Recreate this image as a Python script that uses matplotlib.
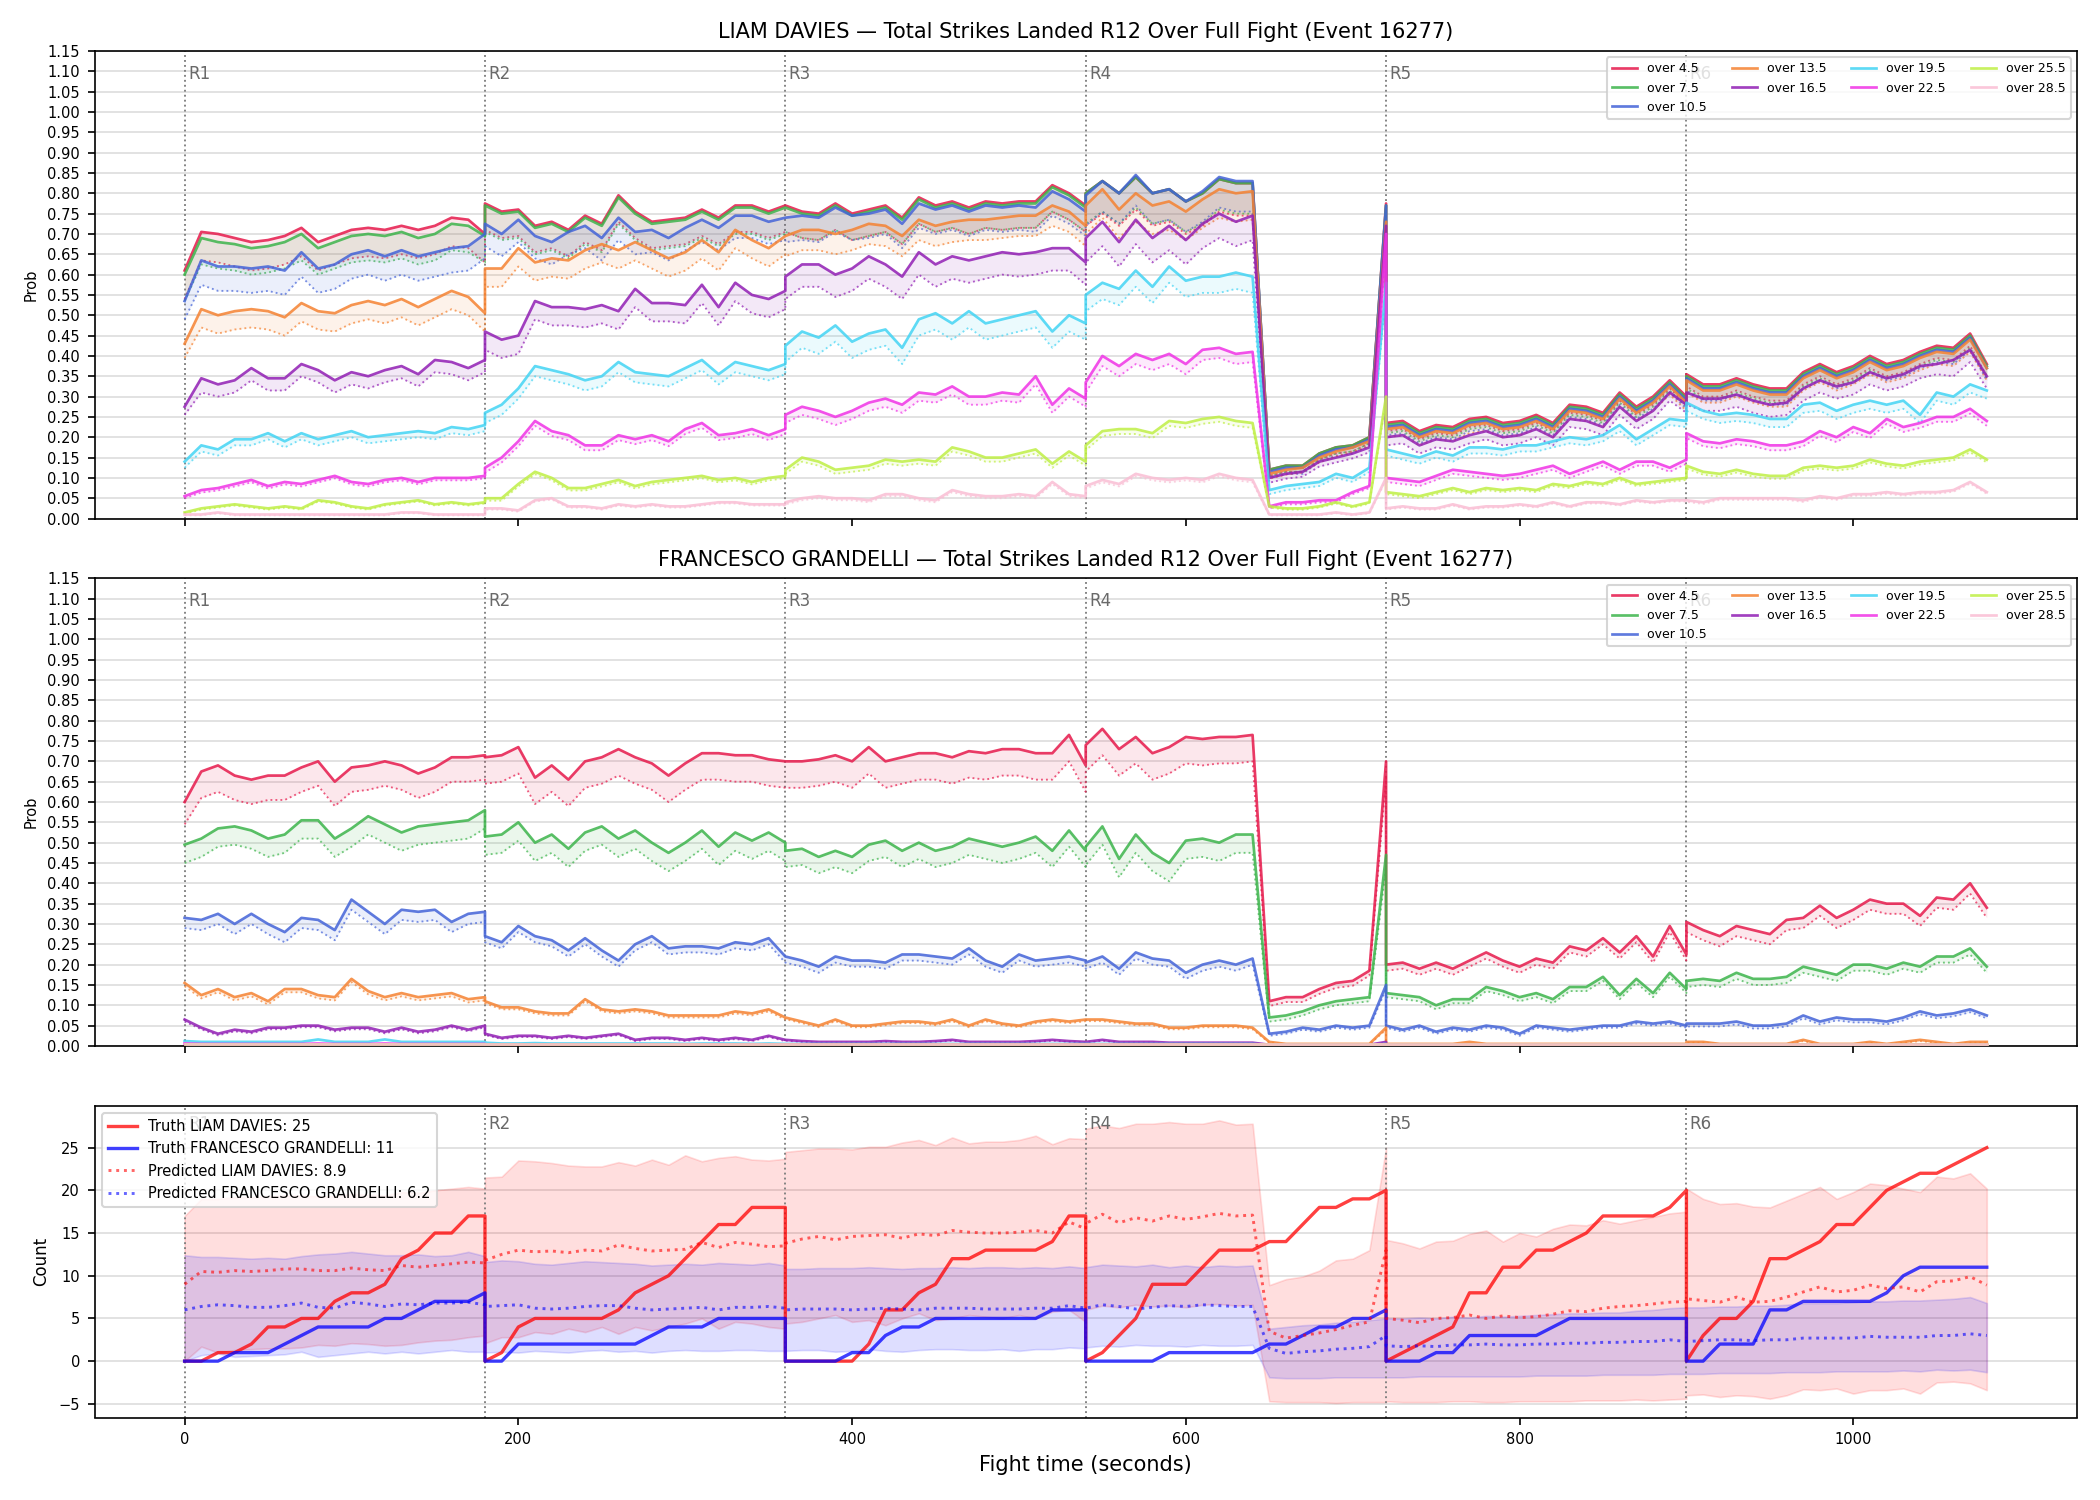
import numpy as np
import matplotlib
matplotlib.use('Agg')
import matplotlib.pyplot as plt
from matplotlib import transforms

plt.rc('font', size=7)

# fight timeline: every round sampled at 0,10,...,180 s (19 points per round)
round_starts = [0, 180, 360, 540, 720, 900]
round_labels = ['R1', 'R2', 'R3', 'R4', 'R5', 'R6']
t = np.concatenate([s + np.arange(0, 181, 10) for s in round_starts])

line_labels = ['over 4.5', 'over 7.5', 'over 10.5', 'over 13.5', 'over 16.5',
               'over 19.5', 'over 22.5', 'over 25.5', 'over 28.5']
line_colors = ['#e6194b', '#3cb44b', '#4363d8', '#f58231', '#911eb4',
               '#42d4f4', '#f032e6', '#bfef45', '#fabed4']

# ---------------- LIAM DAVIES: live probability (solid) ----------------
davies_45 = [.61,.705,.70,.69,.68,.685,.695,.715,.68,.695,.71,.715,.71,.72,.71,.72,.74,.735,.70,
             .775,.755,.76,.72,.73,.71,.745,.725,.795,.755,.73,.735,.74,.76,.74,.77,.77,.755,.77,
             .77,.755,.75,.775,.75,.76,.77,.74,.79,.77,.78,.765,.78,.775,.78,.78,.82,.80,.77,
             .80,.83,.80,.84,.80,.81,.78,.80,.835,.825,.825,.12,.13,.13,.16,.175,.18,.20,.775,
             .235,.24,.215,.23,.225,.245,.25,.235,.24,.255,.235,.28,.275,.26,.31,.275,.30,.34,.30,
             .355,.33,.33,.345,.33,.32,.32,.36,.38,.36,.375,.40,.38,.39,.41,.425,.42,.455,.38]
davies_75 = [.60,.69,.68,.675,.665,.67,.68,.70,.665,.68,.695,.70,.695,.705,.69,.70,.725,.72,.695,
             .77,.75,.755,.715,.725,.705,.74,.72,.79,.75,.725,.73,.735,.755,.735,.765,.765,.75,.765,
             .765,.75,.745,.77,.745,.755,.765,.735,.785,.765,.775,.76,.775,.77,.775,.775,.815,.795,.765,
             .80,.83,.80,.84,.80,.81,.78,.80,.835,.825,.825,.12,.13,.13,.16,.175,.18,.20,.77,
             .23,.235,.21,.225,.22,.24,.245,.23,.235,.25,.23,.275,.27,.255,.305,.27,.295,.335,.295,
             .35,.325,.325,.34,.325,.315,.315,.355,.375,.355,.37,.395,.375,.385,.405,.42,.415,.45,.375]
davies_105 = [.535,.635,.62,.62,.615,.62,.61,.655,.615,.625,.65,.66,.645,.66,.645,.655,.665,.67,.70,
              .725,.70,.735,.695,.68,.705,.72,.69,.74,.705,.71,.69,.715,.735,.715,.745,.745,.73,.74,
              .74,.745,.74,.765,.745,.75,.76,.725,.775,.76,.77,.755,.77,.765,.77,.765,.805,.785,.755,
              .795,.83,.80,.845,.80,.81,.78,.805,.84,.83,.83,.115,.125,.125,.155,.17,.175,.195,.77,
              .225,.23,.205,.22,.215,.235,.24,.225,.23,.245,.225,.27,.265,.25,.30,.265,.29,.33,.29,
              .345,.32,.32,.335,.32,.31,.31,.35,.37,.35,.365,.39,.37,.38,.40,.415,.41,.445,.37]
davies_135 = [.43,.515,.50,.51,.515,.51,.495,.53,.51,.505,.525,.535,.525,.54,.52,.54,.56,.545,.505,
              .615,.615,.665,.63,.64,.635,.66,.675,.66,.68,.66,.64,.655,.685,.655,.71,.685,.665,.695,
              .695,.71,.71,.70,.71,.725,.72,.695,.735,.72,.73,.735,.735,.74,.745,.745,.77,.755,.72,
              .77,.81,.76,.80,.77,.78,.755,.785,.81,.80,.805,.11,.12,.125,.15,.165,.175,.19,.73,
              .22,.225,.20,.215,.21,.23,.235,.22,.225,.24,.22,.265,.26,.245,.295,.26,.285,.325,.285,
              .34,.315,.315,.33,.315,.305,.305,.345,.365,.345,.36,.385,.365,.375,.395,.41,.405,.44,.37]
davies_165 = [.275,.345,.33,.34,.37,.345,.345,.38,.365,.34,.36,.35,.365,.375,.355,.39,.385,.37,.39,
              .46,.44,.45,.535,.52,.52,.515,.525,.51,.565,.53,.53,.525,.575,.52,.58,.55,.54,.56,
              .595,.625,.625,.60,.615,.645,.625,.595,.655,.625,.645,.635,.645,.655,.65,.655,.665,.665,.63,
              .69,.73,.68,.735,.69,.72,.685,.725,.75,.73,.745,.10,.11,.115,.14,.15,.16,.175,.72,
              .20,.205,.18,.195,.19,.205,.215,.20,.205,.22,.20,.245,.24,.225,.275,.24,.265,.31,.28,
              .31,.295,.295,.305,.29,.28,.285,.32,.34,.325,.335,.36,.345,.355,.375,.38,.39,.415,.35]
davies_195 = [.14,.18,.17,.195,.195,.21,.19,.21,.195,.205,.215,.20,.205,.21,.215,.21,.225,.22,.23,
              .26,.28,.32,.375,.365,.355,.34,.35,.385,.36,.355,.35,.37,.39,.355,.385,.375,.365,.38,
              .425,.46,.445,.475,.435,.455,.465,.42,.49,.505,.48,.51,.48,.49,.50,.51,.46,.50,.48,
              .55,.58,.565,.61,.57,.62,.585,.595,.595,.605,.595,.07,.08,.085,.09,.11,.10,.125,.58,
              .17,.16,.15,.165,.155,.175,.175,.17,.18,.18,.19,.20,.195,.205,.23,.195,.22,.245,.24,
              .285,.265,.255,.26,.255,.245,.245,.28,.285,.265,.28,.29,.28,.29,.255,.31,.30,.33,.315]
davies_225 = [.055,.07,.075,.085,.095,.08,.09,.085,.095,.105,.09,.085,.095,.10,.09,.10,.10,.10,.105,
              .125,.15,.19,.24,.215,.205,.18,.18,.205,.195,.205,.19,.22,.235,.205,.21,.22,.205,.22,
              .255,.275,.265,.25,.265,.285,.295,.28,.31,.305,.325,.30,.30,.31,.305,.35,.28,.32,.295,
              .335,.40,.375,.405,.39,.405,.38,.415,.42,.405,.41,.03,.04,.04,.045,.045,.065,.08,.70,
              .10,.095,.09,.105,.12,.115,.11,.105,.11,.12,.13,.11,.125,.14,.12,.14,.14,.125,.145,
              .21,.19,.185,.195,.19,.18,.18,.19,.215,.20,.225,.21,.245,.225,.235,.25,.25,.27,.24]
davies_255 = [.015,.025,.03,.035,.03,.025,.03,.025,.045,.04,.03,.025,.035,.04,.045,.035,.04,.035,.04,
              .05,.05,.085,.115,.10,.075,.075,.085,.095,.08,.09,.095,.10,.105,.095,.10,.09,.10,.105,
              .12,.15,.14,.12,.125,.13,.145,.14,.145,.14,.175,.165,.15,.15,.16,.17,.135,.165,.14,
              .18,.215,.22,.22,.21,.24,.235,.245,.25,.24,.235,.03,.025,.025,.03,.04,.03,.04,.30,
              .065,.06,.055,.065,.075,.065,.075,.07,.075,.07,.085,.08,.09,.085,.10,.085,.09,.095,.10,
              .13,.115,.11,.12,.11,.105,.105,.125,.13,.125,.13,.145,.135,.13,.14,.145,.15,.17,.145]
davies_285 = [.01,.01,.015,.01,.01,.01,.01,.01,.01,.01,.01,.01,.01,.015,.015,.01,.01,.01,.01,
              .025,.025,.02,.045,.05,.03,.03,.025,.035,.03,.035,.03,.03,.035,.04,.04,.035,.035,.035,
              .04,.05,.055,.05,.05,.045,.06,.06,.05,.045,.07,.06,.055,.055,.06,.055,.09,.06,.055,
              .08,.095,.085,.11,.10,.095,.10,.095,.11,.10,.095,.01,.01,.01,.01,.015,.01,.015,.10,
              .025,.03,.025,.025,.035,.025,.03,.03,.035,.03,.04,.03,.04,.04,.035,.045,.04,.045,.045,
              .045,.04,.05,.05,.05,.05,.05,.045,.055,.05,.06,.06,.065,.06,.065,.065,.07,.09,.065]

# ---------------- LIAM DAVIES: pre-fight line (dotted) ----------------
davies_45_pre = [.54,.635,.63,.62,.61,.615,.625,.645,.61,.625,.64,.645,.64,.65,.64,.65,.67,.665,.63,
                 .71,.69,.695,.655,.665,.645,.68,.66,.73,.69,.665,.67,.675,.695,.675,.705,.705,.69,.705,
                 .705,.69,.685,.71,.685,.695,.705,.675,.725,.705,.715,.70,.715,.71,.715,.715,.755,.735,.705,
                 .72,.75,.72,.76,.72,.73,.70,.72,.755,.745,.745,.105,.115,.115,.145,.16,.165,.185,.76,
                 .215,.22,.195,.21,.205,.225,.23,.215,.22,.235,.215,.26,.255,.24,.29,.255,.28,.32,.28,
                 .325,.30,.30,.315,.30,.29,.29,.33,.35,.33,.345,.37,.35,.36,.38,.395,.39,.425,.35]
davies_75_pre = [.535,.625,.615,.61,.60,.605,.615,.635,.60,.615,.63,.635,.63,.64,.625,.635,.66,.655,.63,
                 .705,.685,.69,.65,.66,.64,.675,.655,.725,.685,.66,.665,.67,.69,.67,.70,.70,.685,.70,
                 .705,.69,.685,.71,.685,.695,.705,.675,.725,.705,.715,.70,.715,.71,.715,.715,.755,.735,.705,
                 .725,.755,.725,.765,.725,.735,.705,.725,.76,.75,.75,.105,.115,.115,.145,.16,.165,.185,.755,
                 .21,.215,.19,.205,.20,.22,.225,.21,.215,.23,.21,.255,.25,.235,.285,.25,.275,.315,.275,
                 .32,.295,.295,.31,.295,.285,.285,.325,.345,.325,.34,.365,.345,.355,.375,.39,.385,.42,.345]
davies_105_pre = [.49,.575,.56,.56,.555,.56,.55,.595,.555,.565,.59,.60,.585,.60,.585,.595,.605,.61,.64,
                  .67,.645,.68,.64,.625,.65,.665,.635,.685,.65,.655,.635,.66,.68,.66,.69,.69,.675,.685,
                  .68,.685,.68,.705,.685,.69,.70,.665,.715,.70,.71,.695,.71,.705,.71,.705,.745,.725,.695,
                  .72,.755,.725,.77,.725,.735,.705,.73,.765,.755,.755,.10,.11,.11,.14,.155,.16,.18,.755,
                  .205,.21,.185,.20,.195,.215,.22,.205,.21,.225,.205,.25,.245,.23,.28,.245,.27,.31,.27,
                  .315,.29,.29,.305,.29,.28,.28,.32,.34,.32,.335,.36,.34,.35,.37,.385,.38,.415,.34]
davies_135_pre = [.395,.47,.455,.465,.47,.465,.45,.485,.465,.46,.48,.49,.48,.495,.475,.495,.515,.50,.46,
                  .57,.57,.62,.585,.595,.59,.615,.63,.615,.635,.615,.595,.61,.64,.61,.665,.64,.62,.65,
                  .645,.66,.66,.65,.66,.675,.67,.645,.685,.67,.68,.685,.685,.69,.695,.695,.72,.705,.67,
                  .70,.74,.69,.73,.70,.71,.685,.715,.74,.73,.735,.098,.108,.113,.138,.153,.163,.178,.71,
                  .20,.205,.18,.195,.19,.21,.215,.20,.205,.22,.20,.245,.24,.225,.275,.24,.265,.305,.265,
                  .31,.285,.285,.30,.285,.275,.275,.315,.335,.315,.33,.355,.335,.345,.365,.38,.375,.41,.34]
davies_165_pre = [.255,.31,.30,.31,.34,.315,.315,.35,.335,.31,.33,.32,.335,.345,.325,.36,.355,.34,.36,
                  .415,.395,.405,.49,.475,.475,.47,.48,.465,.52,.485,.485,.48,.53,.475,.535,.505,.495,.515,
                  .54,.57,.57,.545,.56,.59,.57,.54,.60,.57,.59,.58,.59,.60,.595,.60,.61,.61,.575,
                  .63,.67,.62,.675,.63,.66,.625,.665,.69,.67,.685,.088,.098,.103,.128,.138,.148,.163,.70,
                  .18,.185,.16,.175,.17,.185,.195,.18,.185,.20,.18,.225,.22,.205,.255,.22,.245,.29,.26,
                  .28,.265,.265,.275,.26,.25,.255,.29,.31,.295,.305,.33,.315,.325,.345,.355,.35,.385,.32]
davies_195_pre = [.125,.165,.155,.18,.18,.195,.175,.195,.18,.19,.20,.185,.19,.195,.20,.195,.21,.205,.215,
                  .235,.255,.295,.35,.34,.33,.315,.325,.36,.335,.33,.325,.345,.365,.33,.36,.35,.34,.355,
                  .385,.42,.405,.435,.395,.415,.425,.38,.45,.465,.44,.47,.44,.45,.46,.47,.42,.46,.44,
                  .51,.54,.525,.57,.53,.58,.545,.555,.555,.565,.555,.06,.07,.075,.08,.10,.09,.115,.56,
                  .155,.145,.135,.15,.14,.16,.16,.155,.165,.165,.175,.185,.18,.19,.215,.18,.205,.23,.225,
                  .265,.245,.235,.24,.235,.225,.225,.26,.265,.245,.26,.27,.26,.27,.235,.29,.28,.31,.295]
davies_225_pre = [.05,.064,.069,.079,.089,.074,.084,.079,.089,.099,.084,.079,.089,.094,.084,.094,.094,.094,.099,
                  .113,.138,.178,.228,.203,.193,.168,.168,.193,.183,.193,.178,.208,.223,.193,.198,.208,.193,.208,
                  .235,.255,.245,.23,.245,.265,.275,.26,.29,.285,.305,.28,.28,.29,.285,.33,.26,.30,.275,
                  .31,.375,.35,.38,.365,.38,.355,.39,.395,.38,.385,.025,.035,.035,.04,.04,.06,.075,.69,
                  .09,.085,.08,.095,.11,.105,.10,.095,.10,.11,.12,.10,.115,.13,.11,.13,.13,.115,.135,
                  .198,.178,.173,.183,.178,.168,.168,.178,.203,.188,.213,.198,.233,.213,.223,.238,.238,.258,.228]
davies_255_pre = [.012,.022,.027,.032,.027,.022,.027,.022,.042,.037,.027,.022,.032,.037,.042,.032,.037,.032,.037,
                  .044,.044,.079,.109,.094,.069,.069,.079,.089,.074,.084,.089,.094,.099,.089,.094,.084,.094,.099,
                  .11,.14,.13,.11,.115,.12,.135,.13,.135,.13,.165,.155,.14,.14,.15,.16,.125,.155,.13,
                  .168,.203,.208,.208,.198,.228,.223,.233,.238,.228,.223,.027,.022,.022,.027,.037,.027,.037,.29,
                  .06,.055,.05,.06,.07,.06,.07,.065,.07,.065,.08,.075,.085,.08,.095,.08,.085,.09,.095,
                  .123,.108,.103,.113,.103,.098,.098,.118,.123,.118,.123,.138,.128,.123,.133,.138,.143,.163,.138]
davies_285_pre = [.008,.008,.013,.008,.008,.008,.008,.008,.008,.008,.008,.008,.008,.013,.013,.008,.008,.008,.008,
                  .022,.022,.017,.042,.047,.027,.027,.022,.032,.027,.032,.027,.027,.032,.037,.037,.032,.032,.032,
                  .035,.045,.05,.045,.045,.04,.055,.055,.045,.04,.065,.055,.05,.05,.055,.05,.085,.055,.05,
                  .074,.089,.079,.104,.094,.089,.094,.089,.104,.094,.089,.008,.008,.008,.008,.013,.008,.013,.095,
                  .022,.027,.022,.022,.032,.022,.027,.027,.032,.027,.037,.027,.037,.037,.032,.042,.037,.042,.042,
                  .041,.036,.046,.046,.046,.046,.046,.041,.051,.046,.056,.056,.061,.056,.061,.061,.066,.086,.061]

# ---------------- FRANCESCO GRANDELLI: live probability (solid) ----------------
grandelli_45 = [.60,.675,.69,.665,.655,.665,.665,.685,.70,.65,.685,.69,.70,.69,.67,.685,.71,.71,.715,
                .71,.715,.735,.66,.69,.655,.70,.71,.73,.71,.695,.665,.695,.72,.72,.715,.715,.705,.70,
                .70,.70,.705,.715,.70,.735,.70,.71,.72,.72,.71,.725,.72,.73,.73,.72,.72,.765,.69,
                .74,.78,.73,.76,.72,.735,.76,.755,.76,.76,.765,.11,.12,.12,.14,.155,.16,.185,.70,
                .20,.205,.19,.205,.19,.21,.23,.21,.195,.215,.205,.245,.235,.265,.23,.27,.22,.295,.225,
                .305,.285,.27,.295,.285,.275,.31,.315,.345,.315,.335,.36,.35,.35,.32,.365,.36,.40,.34]
grandelli_75 = [.495,.51,.535,.54,.53,.51,.52,.555,.555,.51,.535,.565,.545,.525,.54,.545,.55,.555,.58,
                .515,.52,.55,.50,.52,.485,.525,.54,.51,.53,.50,.475,.50,.53,.49,.525,.505,.525,.50,
                .48,.485,.465,.48,.465,.495,.505,.48,.50,.48,.49,.51,.50,.49,.50,.515,.48,.53,.48,
                .49,.54,.46,.52,.475,.45,.505,.51,.50,.52,.52,.07,.075,.085,.10,.11,.115,.12,.47,
                .13,.125,.12,.10,.115,.115,.145,.135,.12,.13,.115,.145,.145,.17,.125,.165,.13,.18,.14,
                .16,.165,.16,.18,.165,.165,.17,.195,.185,.175,.20,.20,.19,.205,.195,.22,.22,.24,.195]
grandelli_105 = [.315,.31,.325,.30,.325,.30,.28,.315,.31,.285,.36,.33,.30,.335,.33,.335,.305,.325,.33,
                 .27,.255,.295,.27,.26,.235,.265,.235,.21,.25,.27,.24,.245,.245,.24,.255,.25,.265,.22,
                 .22,.21,.195,.22,.21,.21,.205,.225,.225,.22,.215,.24,.21,.195,.225,.21,.215,.22,.21,
                 .205,.22,.19,.23,.215,.21,.18,.20,.21,.20,.215,.03,.035,.045,.04,.05,.045,.05,.15,
                 .05,.04,.05,.035,.045,.04,.05,.045,.03,.05,.045,.04,.045,.05,.05,.06,.055,.06,.05,
                 .055,.055,.055,.06,.05,.05,.055,.075,.06,.07,.065,.065,.06,.07,.085,.075,.08,.09,.075]
grandelli_135 = [.155,.125,.14,.12,.13,.11,.14,.14,.125,.12,.165,.135,.12,.13,.12,.125,.13,.115,.12,
                 .11,.095,.095,.085,.08,.08,.115,.09,.085,.09,.085,.075,.075,.075,.075,.085,.08,.09,.07,
                 .07,.06,.05,.065,.05,.05,.055,.06,.06,.055,.065,.05,.065,.055,.05,.06,.065,.06,.065,
                 .065,.065,.06,.055,.055,.045,.045,.05,.05,.05,.045,.01,.005,.005,.005,.005,.005,.005,.045,
                 .005,.005,.005,.005,.005,.01,.005,.005,.005,.005,.005,.005,.005,.005,.005,.005,.005,.005,.005,
                 .01,.01,.005,.005,.005,.005,.005,.015,.005,.005,.005,.01,.005,.01,.015,.01,.005,.01,.01]
grandelli_165 = [.065,.045,.03,.04,.035,.045,.045,.05,.05,.04,.045,.045,.035,.045,.035,.04,.05,.04,.05,
                 .03,.02,.025,.025,.02,.025,.02,.025,.03,.015,.02,.02,.015,.02,.015,.02,.015,.025,.015,
                 .015,.012,.01,.01,.01,.01,.012,.01,.01,.012,.015,.01,.01,.01,.01,.012,.015,.012,.01,
                 .01,.015,.01,.01,.01,.008,.008,.008,.008,.008,.008,.003,.003,.003,.003,.003,.003,.003,.01,
                 .003,.003,.003,.003,.003,.003,.003,.003,.003,.003,.003,.003,.003,.003,.003,.003,.003,.003,.003,
                 .003,.003,.003,.003,.003,.003,.003,.003,.003,.003,.003,.003,.003,.003,.003,.003,.003,.003,.003]
grandelli_195 = [.012,.01,.01,.01,.01,.01,.01,.01,.016,.01,.01,.01,.016,.01,.01,.01,.01,.01,.01,
                 .008,.006,.006,.007,.006,.006,.006,.006,.006,.006,.006,.006,.005,.006,.006,.006,.005,.006,.005,
                 .005,.005,.005,.005,.005,.005,.005,.005,.005,.005,.005,.005,.005,.005,.005,.005,.005,.005,.005,
                 .005,.005,.005,.005,.005,.005,.005,.005,.005,.005,.005,.002,.002,.002,.002,.002,.002,.002,.005,
                 .002,.002,.002,.002,.002,.002,.002,.002,.002,.002,.002,.002,.002,.002,.002,.002,.002,.002,.002,
                 .002,.002,.002,.002,.002,.002,.002,.002,.002,.002,.002,.002,.002,.002,.002,.002,.002,.002,.002]
grandelli_225 = [.006,.005,.005,.005,.005,.005,.005,.005,.006,.005,.005,.005,.006,.005,.005,.005,.005,.005,.005,
                 .004,.004,.004,.004,.004,.004,.004,.004,.004,.004,.004,.004,.004,.004,.004,.004,.004,.004,.004,
                 .004,.004,.004,.004,.004,.004,.004,.004,.004,.004,.004,.004,.004,.004,.004,.004,.004,.004,.004,
                 .004,.004,.004,.004,.004,.004,.004,.004,.004,.004,.004,.002,.002,.002,.002,.002,.002,.002,.004,
                 .002,.002,.002,.002,.002,.002,.002,.002,.002,.002,.002,.002,.002,.002,.002,.002,.002,.002,.002,
                 .002,.002,.002,.002,.002,.002,.002,.002,.002,.002,.002,.002,.002,.002,.002,.002,.002,.002,.002]
grandelli_255 = [.005,.005,.005,.005,.005,.005,.005,.005,.005,.005,.005,.005,.005,.005,.005,.005,.005,.005,.005,
                 .005,.005,.005,.005,.005,.005,.005,.005,.005,.005,.005,.005,.005,.005,.005,.005,.005,.005,.005,
                 .005,.005,.005,.005,.005,.005,.005,.005,.005,.005,.005,.005,.005,.005,.005,.005,.005,.005,.005,
                 .005,.005,.005,.005,.005,.005,.005,.005,.005,.005,.005,.005,.005,.005,.005,.005,.005,.005,.005,
                 .005,.005,.005,.005,.005,.005,.005,.005,.005,.005,.005,.005,.005,.005,.005,.005,.005,.005,.005,
                 .005,.005,.005,.005,.005,.005,.005,.005,.005,.005,.005,.005,.005,.005,.005,.005,.005,.005,.005]
grandelli_285 = [.006,.006,.006,.006,.006,.006,.006,.006,.006,.006,.006,.006,.006,.006,.006,.006,.006,.006,.006,
                 .006,.006,.006,.006,.006,.006,.006,.006,.006,.006,.006,.006,.006,.006,.006,.006,.006,.006,.006,
                 .006,.006,.006,.006,.006,.006,.006,.006,.006,.006,.006,.006,.006,.006,.006,.006,.006,.006,.006,
                 .006,.006,.006,.006,.006,.006,.006,.006,.006,.006,.006,.006,.006,.006,.006,.006,.006,.006,.006,
                 .006,.006,.006,.006,.006,.006,.006,.006,.006,.006,.006,.006,.006,.006,.006,.006,.006,.006,.006,
                 .006,.006,.006,.006,.006,.006,.006,.006,.006,.006,.006,.006,.006,.006,.006,.006,.006,.006,.006]

# ---------------- FRANCESCO GRANDELLI: pre-fight line (dotted) ----------------
grandelli_45_pre = [.545,.61,.625,.605,.595,.605,.605,.625,.64,.59,.625,.63,.64,.63,.61,.625,.65,.65,.655,
                    .645,.65,.67,.595,.625,.59,.635,.645,.665,.645,.63,.60,.63,.655,.655,.65,.65,.64,.635,
                    .635,.635,.64,.65,.635,.67,.635,.645,.655,.655,.645,.66,.655,.665,.665,.655,.655,.70,.625,
                    .675,.715,.665,.695,.655,.67,.695,.69,.695,.695,.70,.098,.108,.108,.128,.143,.148,.173,.66,
                    .185,.19,.175,.19,.175,.195,.215,.195,.18,.20,.19,.23,.22,.25,.215,.255,.205,.28,.21,
                    .28,.26,.245,.27,.26,.25,.285,.29,.32,.29,.31,.335,.325,.325,.295,.34,.335,.375,.315]
grandelli_75_pre = [.45,.465,.49,.495,.485,.465,.475,.51,.51,.465,.49,.52,.50,.48,.495,.50,.505,.51,.535,
                    .47,.475,.505,.455,.475,.44,.48,.495,.465,.485,.455,.43,.455,.485,.445,.48,.46,.48,.455,
                    .44,.445,.425,.44,.425,.455,.465,.44,.46,.44,.45,.47,.46,.45,.46,.475,.44,.49,.44,
                    .445,.495,.415,.475,.43,.405,.46,.465,.455,.475,.475,.06,.065,.075,.09,.10,.105,.11,.44,
                    .12,.115,.11,.09,.105,.105,.135,.125,.11,.12,.105,.135,.135,.16,.115,.155,.12,.17,.13,
                    .145,.15,.145,.165,.15,.15,.155,.18,.17,.16,.185,.185,.175,.19,.18,.205,.205,.225,.18]
grandelli_105_pre = [.29,.285,.30,.275,.30,.275,.255,.29,.285,.26,.335,.305,.275,.31,.305,.31,.28,.30,.305,
                     .255,.24,.28,.255,.245,.22,.25,.22,.195,.235,.255,.225,.23,.23,.225,.24,.235,.25,.205,
                     .205,.195,.18,.205,.195,.195,.19,.21,.21,.205,.20,.225,.195,.18,.21,.195,.20,.205,.195,
                     .19,.205,.175,.215,.20,.195,.165,.185,.195,.185,.20,.025,.03,.04,.035,.045,.04,.045,.14,
                     .045,.035,.045,.03,.04,.035,.045,.04,.025,.045,.04,.035,.04,.045,.045,.055,.05,.055,.045,
                     .048,.048,.048,.053,.043,.043,.048,.068,.053,.063,.058,.058,.053,.063,.078,.068,.073,.083,.068]
grandelli_135_pre = [.147,.117,.132,.112,.122,.102,.132,.132,.117,.112,.157,.127,.112,.122,.112,.117,.122,.107,.112,
                     .105,.09,.09,.08,.075,.075,.11,.085,.08,.085,.08,.07,.07,.07,.07,.08,.075,.085,.065,
                     .066,.056,.046,.061,.046,.046,.051,.056,.056,.051,.061,.046,.061,.051,.046,.056,.061,.056,.061,
                     .061,.061,.056,.051,.051,.041,.041,.046,.046,.046,.041,.008,.004,.004,.004,.004,.004,.004,.04,
                     .004,.004,.004,.004,.004,.004,.004,.004,.004,.004,.004,.004,.004,.004,.004,.004,.004,.004,.004,
                     .008,.008,.004,.004,.004,.004,.004,.012,.004,.004,.004,.008,.004,.008,.012,.008,.004,.008,.008]
grandelli_165_pre = [.06,.041,.026,.036,.031,.041,.041,.046,.046,.036,.041,.041,.031,.041,.031,.036,.046,.036,.046,
                     .027,.017,.022,.022,.017,.022,.017,.022,.027,.012,.017,.017,.012,.017,.012,.017,.012,.022,.012,
                     .013,.01,.008,.008,.008,.008,.01,.008,.008,.01,.013,.008,.008,.008,.008,.01,.013,.01,.008,
                     .008,.013,.008,.008,.008,.006,.006,.006,.006,.006,.006,.002,.002,.002,.002,.002,.002,.002,.008,
                     .002,.002,.002,.002,.002,.002,.002,.002,.002,.002,.002,.002,.002,.002,.002,.002,.002,.002,.002,
                     .002,.002,.002,.002,.002,.002,.002,.002,.002,.002,.002,.002,.002,.002,.002,.002,.002,.002,.002]

# ---------------- counts: truth (cumulative in round) and model ----------------
truth_davies = [0,0,1,1,2,4,4,5,5,7,8,8,9,12,13,15,15,17,17,
                0,1,4,5,5,5,5,5,6,8,9,10,12,14,16,16,18,18,18,
                0,0,0,0,0,2,6,6,8,9,12,12,13,13,13,13,14,17,17,
                0,1,3,5,9,9,9,11,13,13,13,14,14,16,18,18,19,19,20,
                0,1,2,3,4,8,8,11,11,13,13,14,15,17,17,17,17,18,20,
                0,3,5,5,7,12,12,13,14,16,16,18,20,21,22,22,23,24,25]
truth_grandelli = [0,0,0,1,1,1,2,3,4,4,4,4,5,5,6,7,7,7,8,
                   0,0,2,2,2,2,2,2,2,2,3,4,4,4,5,5,5,5,5,
                   0,0,0,0,1,1,3,4,4,5,5,5,5,5,5,5,6,6,6,
                   0,0,0,0,0,1,1,1,1,1,1,2,2,3,4,4,5,5,6,
                   0,0,0,1,1,3,3,3,3,3,4,5,5,5,5,5,5,5,5,
                   0,0,2,2,2,6,6,7,7,7,7,7,8,10,11,11,11,11,11]
pred_davies = [9.0,10.5,10.4,10.6,10.5,10.6,10.8,10.8,10.6,10.6,10.9,10.7,10.6,11.2,11.0,11.2,11.4,11.6,11.5,
               11.8,12.5,13.0,12.8,12.9,12.7,13.0,12.9,13.6,13.2,12.9,13.0,13.1,13.9,13.3,13.9,13.7,13.4,13.5,
               13.8,14.3,14.6,14.2,14.6,14.7,14.8,14.4,14.9,14.7,15.3,15.1,15.0,15.0,15.1,15.3,15.0,16.3,15.5,
               16.1,17.2,16.2,16.8,16.4,17.0,16.6,16.9,17.3,17.0,17.1,3.5,2.7,3.0,3.3,3.7,4.2,4.6,13.0,
               5.0,4.8,4.5,5.0,5.1,5.4,5.0,5.3,5.1,5.2,5.5,5.9,5.8,6.2,6.4,6.5,6.7,6.9,7.0,
               7.3,7.1,6.9,7.5,6.9,7.0,7.5,8.1,8.7,8.1,8.3,8.9,8.5,8.7,8.1,9.3,9.4,9.9,8.9]
pred_grandelli = [6.0,6.4,6.6,6.5,6.3,6.3,6.5,6.8,6.3,6.2,6.9,6.7,6.4,6.7,6.6,6.8,6.8,6.9,6.6,
                  6.4,6.5,6.6,6.2,6.1,6.2,6.4,6.5,6.5,6.2,6.0,6.1,6.2,6.3,6.0,6.3,6.3,6.4,6.2,
                  6.0,6.1,6.1,6.1,6.0,6.1,6.2,6.1,6.0,6.2,6.2,6.2,6.1,6.1,6.1,6.2,6.2,6.5,6.2,
                  6.2,6.6,6.4,6.1,6.3,6.5,6.4,6.6,6.5,6.4,6.4,1.5,0.9,1.1,1.2,1.4,1.5,1.7,3.0,
                  1.8,1.7,1.8,1.7,1.9,1.9,2.0,1.9,1.9,2.0,2.0,2.1,2.1,2.2,2.2,2.3,2.3,2.5,2.3,
                  2.3,2.4,2.5,2.5,2.4,2.5,2.5,2.7,2.7,2.7,2.7,2.9,2.8,2.8,2.8,3.0,3.0,3.2,3.0]
band_davies_hi = [17.0,19.0,19.0,19.2,19.2,19.3,19.4,19.4,19.3,19.3,19.6,19.5,19.4,19.8,19.7,20.0,20.2,20.4,20.2,
                  21.5,21.6,23.5,23.4,23.2,22.9,22.8,22.8,23.3,22.9,23.6,23.0,24.1,23.4,23.8,24.0,23.6,23.5,23.7,
                  24.5,24.7,24.9,24.9,24.8,25.1,25.1,25.6,25.9,25.3,26.2,25.5,25.7,25.7,25.9,26.4,25.4,26.1,26.0,
                  27.2,27.6,27.3,27.8,27.8,28.0,27.8,27.8,28.2,27.7,27.8,8.9,9.6,9.9,10.6,11.8,12.0,13.0,25.0,
                  14.2,13.8,13.2,14.0,14.1,14.9,15.3,14.0,15.0,14.6,15.5,16.0,15.9,16.5,16.1,16.5,16.9,17.3,17.5,
                  20.2,19.0,18.4,18.5,18.1,18.0,18.8,19.6,20.4,19.0,19.8,20.8,20.6,20.2,19.8,21.6,21.4,22.0,20.2]
band_davies_lo = [0.0,1.7,1.0,1.3,1.4,1.5,1.5,1.6,1.9,1.8,2.1,2.0,1.8,1.9,2.2,2.4,2.5,2.8,3.0,
                  2.1,2.8,2.8,3.4,3.2,3.8,3.4,4.0,3.2,4.0,3.6,4.0,4.4,5.0,3.8,4.6,4.4,4.0,3.8,
                  4.4,4.6,5.0,5.4,4.6,4.8,4.2,5.0,5.6,4.8,5.0,5.4,5.2,5.0,5.4,5.0,5.8,6.0,4.6,
                  6.0,6.5,6.3,6.6,6.4,6.5,6.3,6.6,6.7,6.5,6.6,-4.7,-4.8,-4.8,-4.8,-4.9,-4.8,-4.8,-4.8,
                  -4.7,-4.8,-4.8,-4.8,-4.7,-4.7,-4.8,-4.8,-4.7,-4.7,-4.7,-4.7,-4.6,-4.6,-4.6,-4.5,-4.6,-4.5,-4.4,
                  -4.0,-3.9,-4.2,-4.0,-4.1,-4.4,-4.0,-3.3,-3.4,-3.2,-3.8,-3.4,-3.4,-3.2,-3.8,-2.5,-2.4,-2.6,-3.4]
band_grandelli_hi = [12.4,12.2,12.2,12.1,12.0,12.1,12.0,12.3,12.5,12.6,12.8,12.6,12.4,12.4,12.5,12.3,12.4,12.8,12.3,
                     11.6,11.8,11.7,11.4,11.3,11.5,11.7,11.6,11.5,11.4,11.2,11.3,11.4,11.3,11.5,11.4,11.3,11.5,11.2,
                     10.8,10.8,10.9,10.9,10.9,11.0,10.9,10.8,10.9,10.9,11.0,10.9,11.0,11.0,10.9,11.0,10.9,11.1,10.9,
                     11.0,11.3,11.2,11.1,11.3,11.0,11.2,11.0,11.2,11.1,11.2,3.8,4.0,4.2,4.3,4.5,4.6,4.8,5.0,
                     5.0,5.0,5.1,5.0,5.2,5.1,5.3,5.2,5.3,5.4,5.5,5.6,5.6,5.7,5.7,5.9,6.0,6.2,6.3,
                     6.3,6.3,6.4,6.4,6.5,6.5,6.6,6.8,6.8,6.8,6.9,7.0,7.0,7.1,7.1,7.2,7.3,7.5,6.8]
band_grandelli_lo = [0.0,0.7,0.9,0.5,0.6,0.7,0.8,1.1,0.5,0.7,0.9,1.1,0.9,1.1,0.9,1.1,1.3,1.1,1.1,
                     1.0,1.1,1.0,1.2,1.1,1.0,1.2,1.3,1.1,1.2,1.0,1.2,1.3,1.2,1.2,1.3,1.3,1.2,1.2,
                     1.2,1.3,1.3,1.1,1.2,1.4,1.2,1.1,1.3,1.4,1.4,1.3,1.3,1.4,1.2,1.4,1.4,1.6,1.5,
                     1.6,1.8,1.7,1.9,1.8,1.8,1.7,1.9,1.8,1.8,1.9,-1.9,-2.0,-2.0,-2.0,-1.9,-1.9,-1.9,-1.9,
                     -1.9,-1.9,-1.8,-1.8,-1.8,-1.8,-1.8,-1.8,-1.8,-1.7,-1.7,-1.7,-1.7,-1.6,-1.6,-1.6,-1.6,-1.5,-1.5,
                     -1.5,-1.5,-1.4,-1.4,-1.4,-1.4,-1.3,-1.3,-1.3,-1.2,-1.2,-1.2,-1.2,-1.1,-1.2,-1.0,-1.1,-1.0,-1.3]
pred_legend_values = [8.9, 6.2]

davies_live = [davies_45, davies_75, davies_105, davies_135, davies_165,
               davies_195, davies_225, davies_255, davies_285]
davies_pre = [davies_45_pre, davies_75_pre, davies_105_pre, davies_135_pre, davies_165_pre,
              davies_195_pre, davies_225_pre, davies_255_pre, davies_285_pre]
grandelli_live = [grandelli_45, grandelli_75, grandelli_105, grandelli_135, grandelli_165,
                  grandelli_195, grandelli_225, grandelli_255, grandelli_285]
grandelli_pre = [grandelli_45_pre, grandelli_75_pre, grandelli_105_pre, grandelli_135_pre,
                 grandelli_165_pre, None, None, None, None]


def mark_rounds(ax):
    tr = transforms.blended_transform_factory(ax.transData, ax.transAxes)
    for s, lab in zip(round_starts, round_labels):
        ax.axvline(s, color='gray', ls=':', lw=0.9, zorder=1)
        ax.text(s + 2, 0.97, lab, transform=tr, va='top', ha='left',
                color='dimgray', fontsize=8, zorder=1)


def prob_panel(ax, live, pre, title):
    for lab, col, y, yp in zip(line_labels, line_colors, live, pre):
        y = np.array(y)
        ax.plot(t, y, color=col, lw=1.3, alpha=0.85, label=lab, zorder=3)
        if yp is not None:
            yp = np.array(yp)
            ax.plot(t, yp, color=col, lw=0.9, ls=':', alpha=0.7, zorder=2)
            ax.fill_between(t, yp, y, color=col, alpha=0.1, lw=0, zorder=2)
    mark_rounds(ax)
    ax.set_ylim(0, 1.15)
    ax.set_yticks(np.arange(0, 1.151, 0.05))
    ax.grid(axis='y', color='#dddddd', lw=0.8)
    ax.set_axisbelow(True)
    ax.set_ylabel('Prob')
    ax.set_title(title, fontsize=10)
    ax.legend(loc='upper right', ncol=4, fontsize=6, framealpha=0.8)


fig = plt.figure(figsize=(14, 10), dpi=150)
gs = fig.add_gridspec(3, 1, height_ratios=[3, 3, 2], left=0.045, right=0.989,
                      top=0.966, bottom=0.055, hspace=0.144)
ax1 = fig.add_subplot(gs[0])
ax2 = fig.add_subplot(gs[1], sharex=ax1)
ax3 = fig.add_subplot(gs[2], sharex=ax1)

prob_panel(ax1, davies_live, davies_pre,
           'LIAM DAVIES \u2014 Total Strikes Landed R12 Over Full Fight (Event 16277)')
prob_panel(ax2, grandelli_live, grandelli_pre,
           'FRANCESCO GRANDELLI \u2014 Total Strikes Landed R12 Over Full Fight (Event 16277)')
plt.setp(ax1.get_xticklabels(), visible=False)
plt.setp(ax2.get_xticklabels(), visible=False)

# count panel
ax3.fill_between(t, band_davies_lo, band_davies_hi, color='red', alpha=0.13, lw=0.8)
ax3.fill_between(t, band_grandelli_lo, band_grandelli_hi, color='blue', alpha=0.13, lw=0.8)
ax3.plot(t, truth_davies, color='red', lw=1.6, alpha=0.75,
         label=f'Truth LIAM DAVIES: {truth_davies[-1]}')
ax3.plot(t, truth_grandelli, color='blue', lw=1.6, alpha=0.75,
         label=f'Truth FRANCESCO GRANDELLI: {truth_grandelli[-1]}')
ax3.plot(t, pred_davies, color='red', lw=1.4, ls=':', alpha=0.6,
         label=f'Predicted LIAM DAVIES: {pred_legend_values[0]}')
ax3.plot(t, pred_grandelli, color='blue', lw=1.4, ls=':', alpha=0.6,
         label=f'Predicted FRANCESCO GRANDELLI: {pred_legend_values[1]}')
mark_rounds(ax3)
ax3.set_ylim(-6.6, 29.9)
ax3.grid(axis='y', color='#dddddd', lw=0.8)
ax3.set_axisbelow(True)
ax3.set_ylabel('Count', fontsize=8)
ax3.set_xlabel('Fight time (seconds)', fontsize=10)
ax3.legend(loc='upper left', fontsize=7, framealpha=0.8)

fig.savefig('out.png', dpi=150)
